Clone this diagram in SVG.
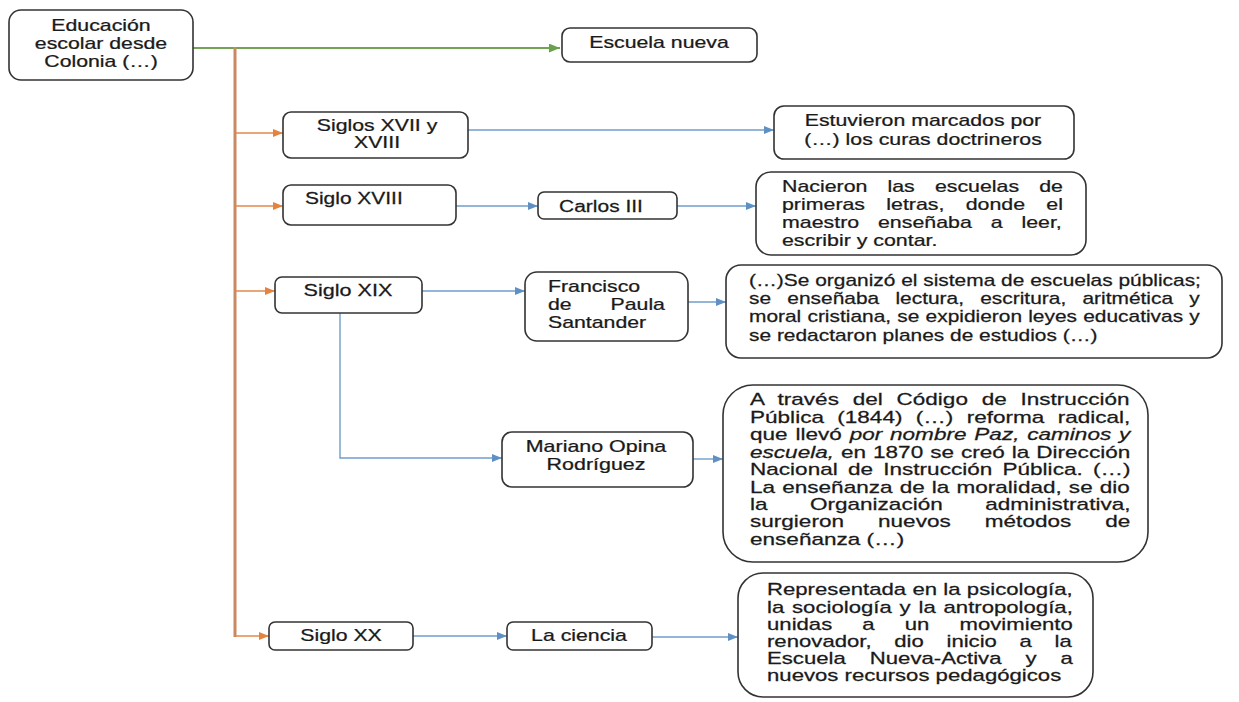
<svg xmlns="http://www.w3.org/2000/svg" width="1239" height="702" viewBox="0 0 1239 702">
<style>
.bx{fill:#fff;stroke:#333;stroke-width:1.6}
text{font-family:"Liberation Sans",Arial,sans-serif;font-size:16px;fill:#1a1a1a;stroke:#1a1a1a;stroke-width:0.25}
.c{text-anchor:middle}
.it{font-style:italic}
.og{fill:none;stroke:#E5894A;stroke-width:1.6}
.ov{fill:none;stroke:#C98A60;stroke-width:3}
.bl{fill:none;stroke:#6F9DCB;stroke-width:1.4}
.gr{fill:none;stroke:#73A455;stroke-width:2}
</style>
<defs>
<marker id="ao" viewBox="0 0 10 8" refX="10" refY="4" markerWidth="10" markerHeight="8" markerUnits="userSpaceOnUse" orient="auto"><path d="M0,0 L10,4 L0,8 z" fill="#E5823E"/></marker>
<marker id="ab" viewBox="0 0 10 8" refX="10" refY="4" markerWidth="10" markerHeight="8" markerUnits="userSpaceOnUse" orient="auto"><path d="M0,0 L10,4 L0,8 z" fill="#5F90C4"/></marker>
<marker id="ag" viewBox="0 0 10 8" refX="10" refY="4" markerWidth="11" markerHeight="9" markerUnits="userSpaceOnUse" orient="auto"><path d="M0,0 L10,4 L0,8 z" fill="#6AA14C"/></marker>
</defs>
<rect width="1239" height="702" fill="#fff"/>
<g id="connectors">
<path class="gr" d="M193,48 H560" marker-end="url(#ag)"/>
<path class="ov" d="M235,47 V637"/>
<path class="og" d="M236,133 H283" marker-end="url(#ao)"/>
<path class="og" d="M236,206 H283" marker-end="url(#ao)"/>
<path class="og" d="M236,291 H275" marker-end="url(#ao)"/>
<path class="og" d="M236,636 H269" marker-end="url(#ao)"/>
<path class="bl" d="M468,130 H774" marker-end="url(#ab)"/>
<path class="bl" d="M456,206 H538" marker-end="url(#ab)"/>
<path class="bl" d="M677,206 H756" marker-end="url(#ab)"/>
<path class="bl" d="M422,291 H525" marker-end="url(#ab)"/>
<path class="bl" d="M688,302 H726" marker-end="url(#ab)"/>
<path class="bl" d="M340,313 V458 H502" marker-end="url(#ab)"/>
<path class="bl" d="M693,459 H723" marker-end="url(#ab)"/>
<path class="bl" d="M413,636 H507" marker-end="url(#ab)"/>
<path class="bl" d="M652,637 H738" marker-end="url(#ab)"/>
</g>
<g id="n-educacion">
<rect class="bx" x="9" y="10" width="184" height="70" rx="12"/>
<g transform="translate(101,0) scale(1.33,1)"><text class="c" y="31">Educación</text><text class="c" y="49">escolar desde</text><text class="c" y="67">Colonia (…)</text></g>
</g>
<g id="n-escuela-nueva">
<rect class="bx" x="562" y="28" width="195" height="34" rx="8"/>
<g transform="translate(659,0) scale(1.33,1)"><text class="c" y="48">Escuela nueva</text></g>
</g>
<g id="n-siglos-xvii">
<rect class="bx" x="283" y="112" width="185" height="46" rx="8"/>
<g transform="translate(377,0) scale(1.33,1)"><text class="c" y="131">Siglos XVII y</text><text class="c" y="148">XVIII</text></g>
</g>
<g id="n-estuvieron">
<rect class="bx" x="774" y="106" width="300" height="53" rx="10"/>
<g transform="translate(923,0) scale(1.33,1)"><text class="c" y="126">Estuvieron marcados por</text><text class="c" y="145">(…) los curas doctrineros</text></g>
</g>
<g id="n-siglo-xviii">
<rect class="bx" x="283" y="185" width="173" height="40" rx="8"/>
<g transform="translate(305,0) scale(1.31,1)"><text y="204">Siglo XVIII</text></g>
</g>
<g id="n-carlos">
<rect class="bx" x="538" y="192" width="139" height="27" rx="6"/>
<g transform="translate(601,0) scale(1.31,1)"><text class="c" y="212">Carlos III</text></g>
</g>
<g id="n-nacieron">
<rect class="bx" x="756" y="172" width="330" height="83" rx="15"/>
<g transform="translate(782,0) scale(1.335,1)">
<text y="192" word-spacing="10.6">Nacieron las escuelas de</text>
<text y="210" word-spacing="11.5">primeras letras, donde el</text>
<text y="228" word-spacing="9.7">maestro enseñaba a leer,</text>
<text y="246">escribir y contar.</text>
</g>
</g>
<g id="n-siglo-xix">
<rect class="bx" x="275" y="277" width="147" height="36" rx="7"/>
<g transform="translate(348,0) scale(1.35,1)"><text class="c" y="296">Siglo XIX</text></g>
</g>
<g id="n-francisco">
<rect class="bx" x="525" y="272" width="163" height="69" rx="12"/>
<g transform="translate(548,0) scale(1.33,1)">
<text y="292">Francisco</text>
<text y="310" word-spacing="24.8">de Paula</text>
<text y="328">Santander</text>
</g>
</g>
<g id="n-organizo">
<rect class="bx" x="726" y="265" width="496" height="93" rx="15"/>
<g transform="translate(749,0) scale(1.307,1)">
<text y="286">(…)Se organizó el sistema de escuelas públicas;</text>
<text y="304" word-spacing="8">se enseñaba lectura, escritura, aritmética y</text>
<text y="322" word-spacing="0.3">moral cristiana, se expidieron leyes educativas y</text>
<text y="341">se redactaron planes de estudios (…)</text>
</g>
</g>
<g id="n-mariano">
<rect class="bx" x="502" y="432" width="191" height="55" rx="10"/>
<g transform="translate(596,0) scale(1.34,1)"><text class="c" y="452">Mariano Opina</text><text class="c" y="470">Rodríguez</text></g>
</g>
<g id="n-atraves">
<rect class="bx" x="723" y="385" width="425" height="177" rx="30"/>
<g transform="translate(750,0) scale(1.41,1)">
<text y="405" word-spacing="5.3">A través del Código de Instrucción</text>
<text y="423" word-spacing="5">Pública (1844) (…) reforma radical,</text>
<text y="440" word-spacing="1.1">que llevó <tspan class="it">por nombre Paz, caminos y</tspan></text>
<text y="458" word-spacing="0.5"><tspan class="it">escuela,</tspan> en 1870 se creó la Dirección</text>
<text y="475" word-spacing="2.8">Nacional de Instrucción Pública. (…)</text>
<text y="493" word-spacing="0.6">La enseñanza de la moralidad, se dio</text>
<text y="510" word-spacing="25.6">la Organización administrativa,</text>
<text y="527" word-spacing="19.7">surgieron nuevos métodos de</text>
<text y="545">enseñanza (…)</text>
</g>
</g>
<g id="n-siglo-xx">
<rect class="bx" x="269" y="622" width="144" height="28" rx="6"/>
<g transform="translate(341,0) scale(1.33,1)"><text class="c" y="641">Siglo XX</text></g>
</g>
<g id="n-la-ciencia">
<rect class="bx" x="507" y="622" width="145" height="28" rx="6"/>
<g transform="translate(579,0) scale(1.33,1)"><text class="c" y="641">La ciencia</text></g>
</g>
<g id="n-representada">
<rect class="bx" x="738" y="573" width="355" height="124" rx="25"/>
<g transform="translate(767,0) scale(1.385,1)">
<text y="595" word-spacing="0.1">Representada en la psicología,</text>
<text y="613" word-spacing="1.2">la sociología y la antropología,</text>
<text y="630" word-spacing="17.3">unidas a un movimiento</text>
<text y="647" word-spacing="11.9">renovador, dio inicio a la</text>
<text y="664" word-spacing="12.9">Escuela Nueva-Activa y a</text>
<text y="681">nuevos recursos pedagógicos</text>
</g>
</g>
</svg>
